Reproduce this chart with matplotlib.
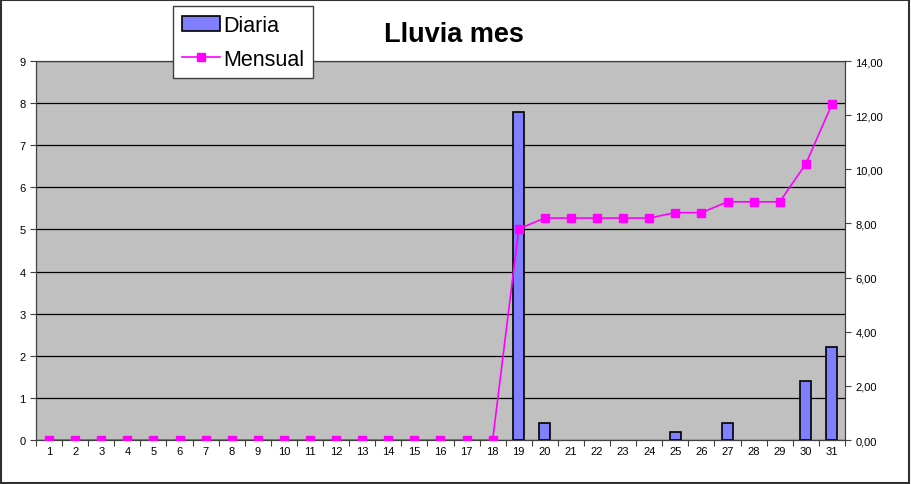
import matplotlib
matplotlib.use('Agg')
import matplotlib.pyplot as plt
from matplotlib.patches import Patch
from matplotlib.ticker import FuncFormatter, FixedLocator, NullFormatter

plt.rcParams['font.family'] = ['Liberation Sans', 'DejaVu Sans']

days = list(range(1, 32))
diaria = [0] * 18 + [7.8, 0.4, 0, 0, 0, 0, 0.2, 0, 0.4, 0, 0, 1.4, 2.2]
mensual = [0] * 18 + [7.8, 8.2, 8.2, 8.2, 8.2, 8.2, 8.4, 8.4, 8.8, 8.8, 8.8, 10.2, 12.4]

fig = plt.figure(figsize=(9.11, 4.85), dpi=100)
ax = fig.add_axes([0.0395, 0.0907, 0.888, 0.7813])
ax.set_facecolor('#C0C0C0')

# empty days get no outline
edge_w = [1.2 if v > 0 else 0 for v in diaria]
ax.bar(days, diaria, width=0.42, color='#8080FF', edgecolor='black', linewidth=edge_w, zorder=3)
ax.set_xlim(0.5, 31.5)
ax.set_ylim(0, 9)
ax.set_yticks(range(10))
ax.yaxis.grid(True, color='black', linewidth=0.9, zorder=1)
ax.set_axisbelow(True)
ax.xaxis.set_major_locator(FixedLocator([d + 0.5 for d in range(0, 32)]))
ax.xaxis.set_major_formatter(NullFormatter())
ax.xaxis.set_minor_locator(FixedLocator(days))
ax.set_xticklabels([str(d) for d in days], minor=True)
ax.tick_params(axis='x', which='minor', length=0, labelsize=8, pad=4)
ax.tick_params(axis='x', which='major', length=4, color='#404040')
ax.tick_params(axis='y', labelsize=8, length=4, color='#404040')
for s in ax.spines.values():
    s.set_color('#404040')

ax2 = ax.twinx()
line, = ax2.plot(days, mensual, color='#FF00FF', marker='s', markersize=6, linewidth=1.2, zorder=4)
ax2.set_ylim(0, 14)
ax2.set_yticks(range(0, 15, 2))
ax2.yaxis.set_major_formatter(FuncFormatter(lambda v, p: f'{v:.2f}'.replace('.', ',')))
ax2.tick_params(axis='y', labelsize=8, length=4, color='#404040')
for s in ax2.spines.values():
    s.set_color('#404040')

fig.text(0.498, 0.928, 'Lluvia mes', ha='center', va='center', fontsize=19.5, fontweight='bold')

bar_handle = Patch(facecolor='#8080FF', edgecolor='black', linewidth=1.2)
leg = fig.legend([bar_handle, line], ['Diaria', 'Mensual'], loc='upper left',
                 bbox_to_anchor=(173 / 911, 1 - 7 / 485), borderaxespad=0,
                 fancybox=False, edgecolor='#404040', framealpha=1,
                 handlelength=1.8, handletextpad=0.15, borderpad=0.4, labelspacing=0.6,
                 prop={'size': 15.5})
leg.get_frame().set_linewidth(1.0)
leg.set_zorder(10)

fig.patches.append(plt.Rectangle((0.001, 0.002), 0.997, 0.996, transform=fig.transFigure,
                                 fill=False, edgecolor='#303030', linewidth=1.5))

plt.savefig('out.png', dpi=100)
plt.close()
